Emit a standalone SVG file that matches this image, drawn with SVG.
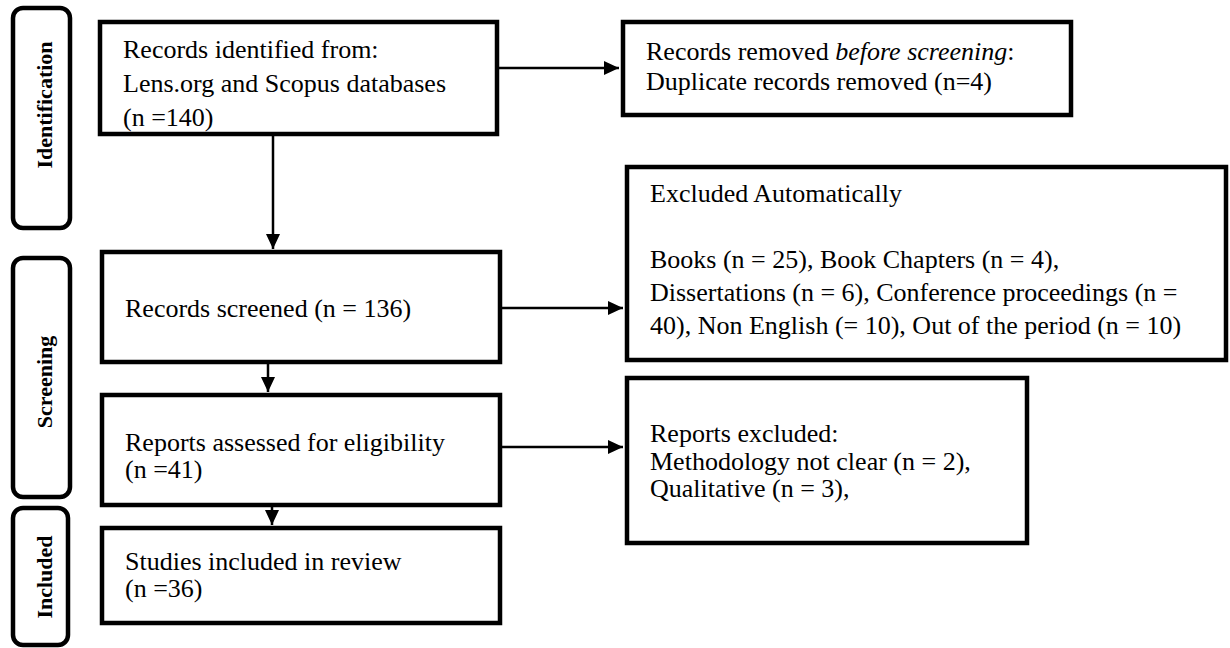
<svg xmlns="http://www.w3.org/2000/svg" width="1230" height="648" viewBox="0 0 1230 648">
<style>
  .box { fill: #ffffff; stroke: #000000; stroke-width: 4.5; }
  .side { fill: #ffffff; stroke: #000000; stroke-width: 4.5; }
  .t { font-family: "Liberation Serif", "Times New Roman", serif; font-size: 26px; fill: #000000; }
  .lab { font-family: "Liberation Serif", "Times New Roman", serif; font-size: 22px; font-weight: bold; fill: #000000; text-anchor: middle; }
  .conn { stroke: #000000; stroke-width: 2.5; fill: none; }
</style>
<defs>
  <marker id="arr" markerUnits="userSpaceOnUse" markerWidth="16" markerHeight="16" refX="15" refY="7" orient="auto">
    <path d="M0,0 L15,7 L0,14 Z" fill="#000000"/>
  </marker>
</defs>
<rect width="1230" height="648" fill="#ffffff"/>

<g id="phase-identification">
  <rect class="side" x="13" y="8" width="57" height="220" rx="10"/>
  <text class="lab" transform="translate(52,105) rotate(-90)">Identification</text>
</g>
<g id="phase-screening">
  <rect class="side" x="13" y="258" width="57" height="239" rx="10"/>
  <text class="lab" transform="translate(52,382) rotate(-90)">Screening</text>
</g>
<g id="phase-included">
  <rect class="side" x="13" y="508" width="55" height="137" rx="10"/>
  <text class="lab" transform="translate(52,577) rotate(-90)">Included</text>
</g>

<g id="node-identified">
  <rect class="box" x="100" y="22" width="397" height="112"/>
  <text class="t" x="123" y="58">Records identified from:</text>
  <text class="t" x="123" y="92">Lens.org and Scopus databases</text>
  <text class="t" x="123" y="126">(n =140)</text>
</g>
<g id="node-removed">
  <rect class="box" x="623" y="22" width="448" height="93"/>
  <text class="t" x="646" y="60">Records removed <tspan font-style="italic">before screening</tspan>:</text>
  <text class="t" x="646" y="90">Duplicate records removed (n=4)</text>
</g>
<g id="node-screened">
  <rect class="box" x="102" y="252" width="398" height="110"/>
  <text class="t" x="125" y="317">Records screened (n = 136)</text>
</g>
<g id="node-excluded-auto">
  <rect class="box" x="627" y="167" width="599" height="193"/>
  <text class="t" x="650" y="202">Excluded Automatically</text>
  <text class="t" x="650" y="268">Books (n = 25), Book Chapters (n = 4),</text>
  <text class="t" x="650" y="301">Dissertations (n = 6), Conference proceedings (n =</text>
  <text class="t" x="650" y="334">40), Non English (= 10), Out of the period (n = 10)</text>
</g>
<g id="node-assessed">
  <rect class="box" x="102" y="395" width="398" height="110"/>
  <text class="t" x="125" y="451">Reports assessed for eligibility</text>
  <text class="t" x="125" y="478">(n =41)</text>
</g>
<g id="node-reports-excluded">
  <rect class="box" x="627" y="378" width="400" height="165"/>
  <text class="t" x="650" y="442">Reports excluded:</text>
  <text class="t" x="650" y="470">Methodology not clear (n = 2),</text>
  <text class="t" x="650" y="497">Qualitative (n = 3),</text>
</g>
<g id="node-included">
  <rect class="box" x="102" y="528" width="398" height="95"/>
  <text class="t" x="125" y="570">Studies included in review</text>
  <text class="t" x="125" y="597">(n =36)</text>
</g>

<g id="connectors">
  <line class="conn" x1="499" y1="68" x2="619" y2="68" marker-end="url(#arr)"/>
  <line class="conn" x1="273" y1="136" x2="273" y2="249" marker-end="url(#arr)"/>
  <line class="conn" x1="502" y1="308" x2="623" y2="308" marker-end="url(#arr)"/>
  <line class="conn" x1="268" y1="364" x2="268" y2="392" marker-end="url(#arr)"/>
  <line class="conn" x1="502" y1="447" x2="623" y2="447" marker-end="url(#arr)"/>
  <line class="conn" x1="272" y1="507" x2="272" y2="525" marker-end="url(#arr)"/>
</g>
</svg>
